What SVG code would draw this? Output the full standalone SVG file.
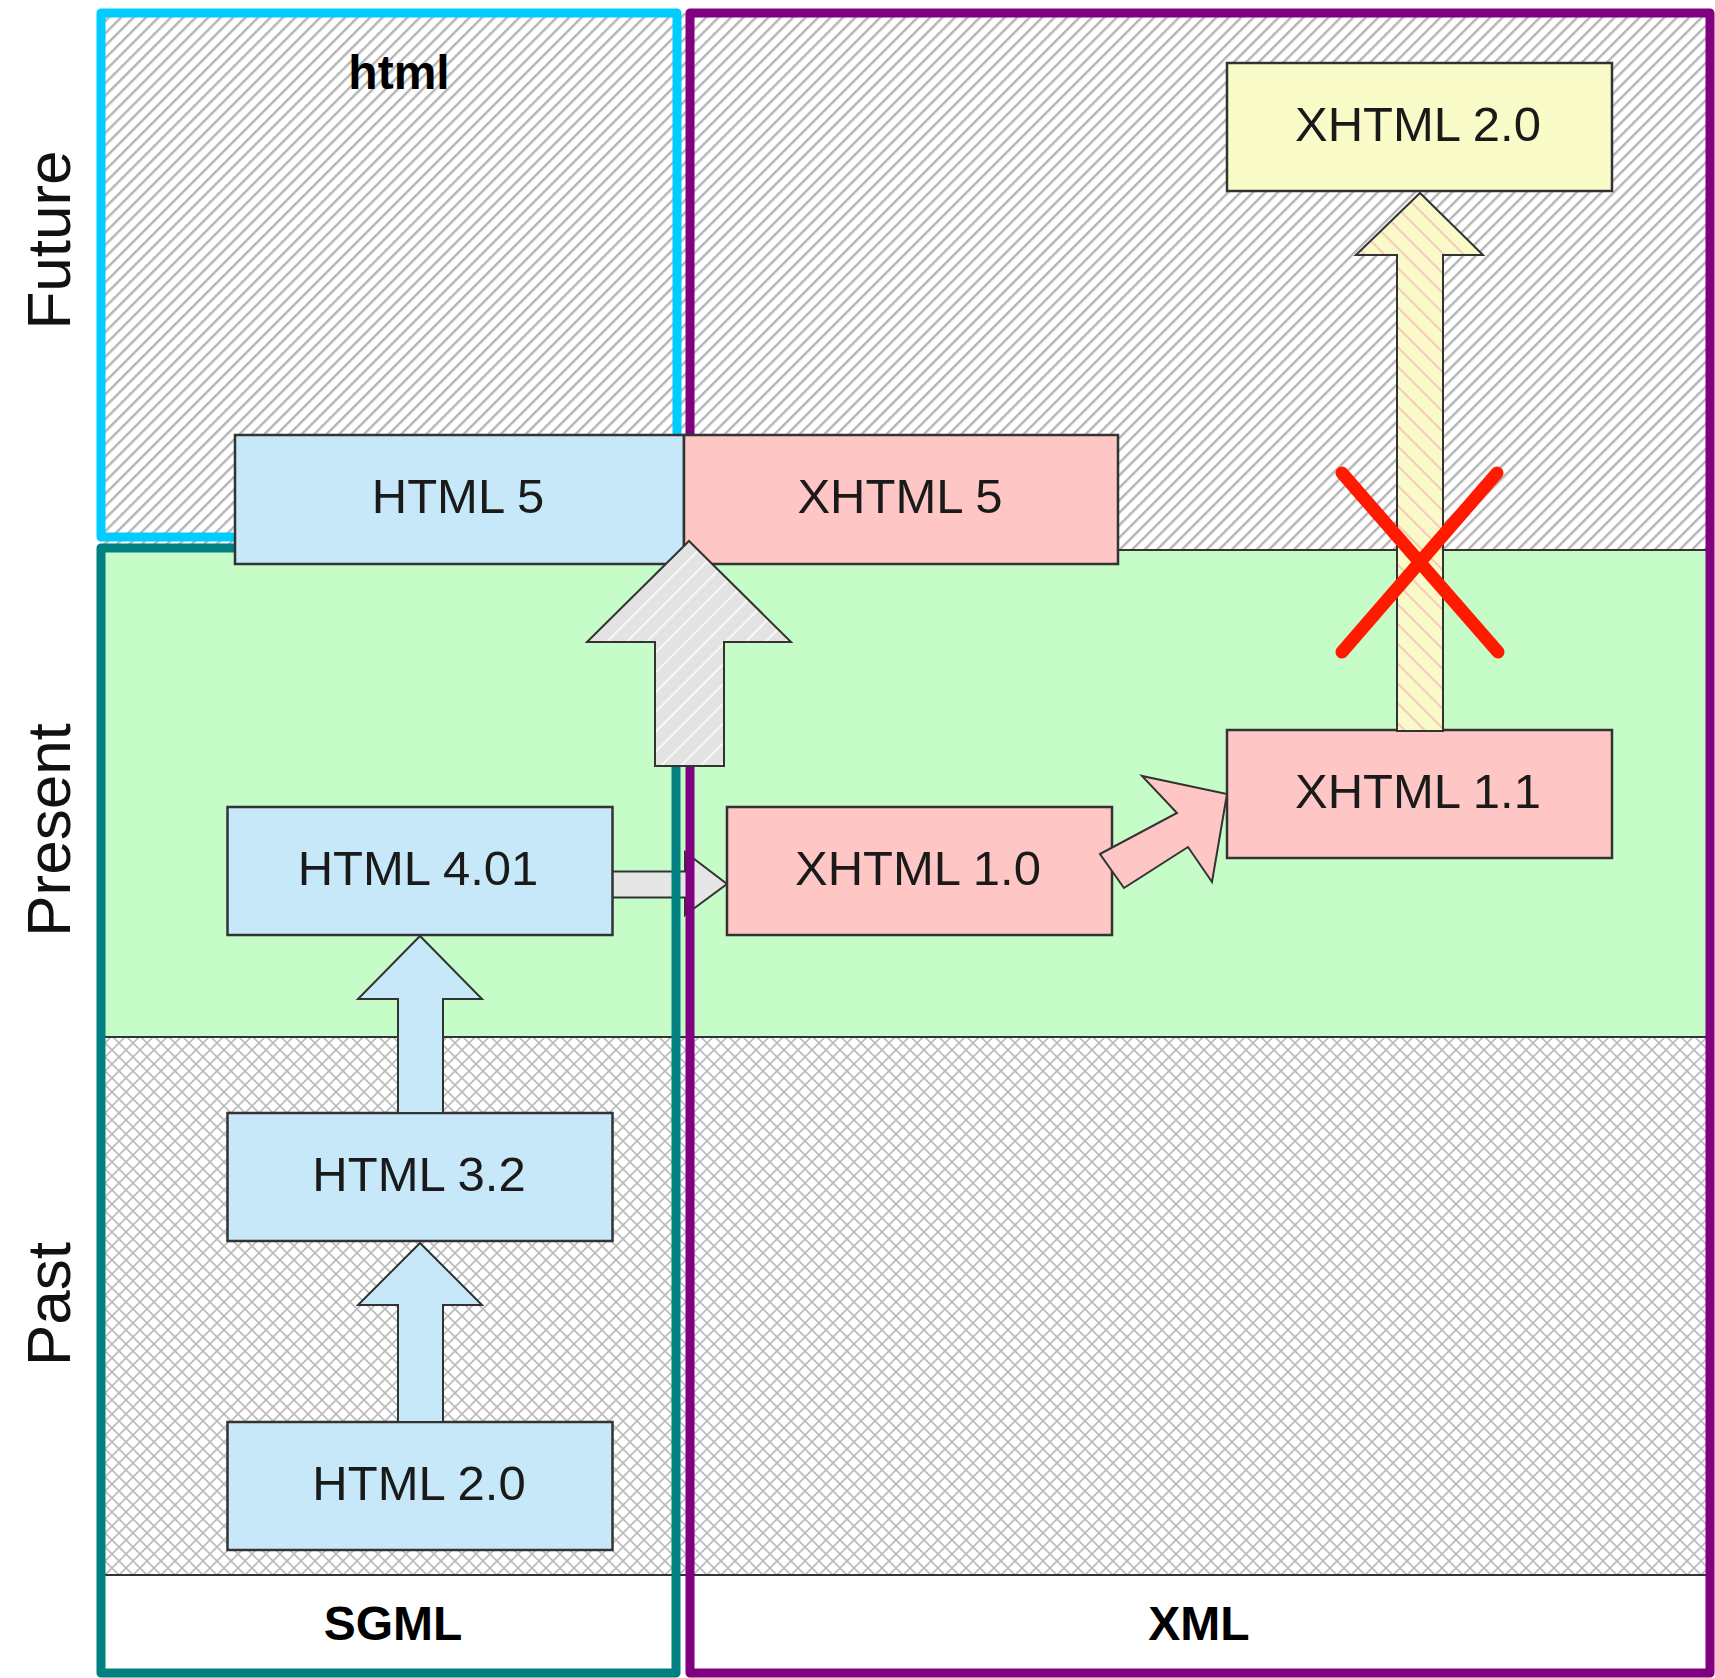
<svg xmlns="http://www.w3.org/2000/svg" width="1715" height="1678" viewBox="0 0 1715 1678">
<defs>
<pattern id="hatchFuture" patternUnits="userSpaceOnUse" width="8.8" height="10" patternTransform="rotate(45)">
<rect x="0" y="0" width="8.8" height="10" fill="#ffffff"/>
<rect x="0" y="0" width="2.4" height="10" fill="#b4b4b4"/>
</pattern>
<pattern id="crossPast" patternUnits="userSpaceOnUse" width="14" height="14">
<rect x="0" y="0" width="14" height="14" fill="#ffffff"/>
<path d="M0,0 L14,14 M14,0 L0,14" stroke="#bcbcbc" stroke-width="1.7" fill="none"/>
</pattern>
<pattern id="hatchGray" patternUnits="userSpaceOnUse" width="14" height="10" patternTransform="rotate(45)">
<rect x="0" y="0" width="14" height="10" fill="#e3e3e3"/>
<rect x="0" y="0" width="2" height="10" fill="#f8f8f8"/>
</pattern>
<pattern id="hatchYellow" patternUnits="userSpaceOnUse" width="14" height="10" patternTransform="rotate(-45)">
<rect x="0" y="0" width="14" height="10" fill="#fafac8"/>
<rect x="0" y="0" width="2" height="10" fill="#f6c8c0"/>
</pattern>
</defs>
<style>
.node rect { stroke: #333333; stroke-width: 2.5; }
.blue { fill: #c6e8f8; }
.pink { fill: #fec6c4; }
.yellow { fill: #f9fcc8; }
.label { font-family: "Liberation Sans", Arial, sans-serif; font-size: 49px; fill: #1a1a1a; text-anchor: middle; }
.bold { font-family: "Liberation Sans", Arial, sans-serif; font-size: 48px; font-weight: bold; fill: #000000; text-anchor: middle; }
.axis { font-family: "Liberation Sans", Arial, sans-serif; font-size: 62px; fill: #111111; text-anchor: middle; }
.arrow { stroke: #333333; stroke-width: 2; stroke-linejoin: miter; }
.divider { stroke: #333333; stroke-width: 2; }
.frame { fill: none; stroke-width: 9; stroke-linejoin: round; }
</style>

<rect x="0" y="0" width="1715" height="1678" fill="#ffffff"/>

<g id="bands">
<rect x="101" y="13" width="1609" height="537" fill="url(#hatchFuture)"/>
<rect x="101" y="550" width="1609" height="487" fill="#c6fcc8"/>
<rect x="101" y="1037" width="1609" height="538" fill="url(#crossPast)"/>
<rect x="101" y="1575" width="1609" height="98" fill="#ffffff"/>
<line class="divider" x1="101" y1="550" x2="1710" y2="550"/>
<line class="divider" x1="101" y1="1037" x2="1710" y2="1037"/>
<line class="divider" x1="101" y1="1575" x2="1710" y2="1575"/>
</g>

<g id="connectors-behind">
<polygon id="arrow-html401-xhtml10" class="arrow" fill="#e6e6e6" points="612,871.5 685,871.5 685,852 727,884 685,915 685,897.5 612,897.5"/>
</g>

<g id="frames">
<rect id="frame-html" class="frame" x="101" y="13" width="576" height="524" stroke="#00ccff"/>
<rect id="frame-sgml" class="frame" x="101" y="548" width="575" height="1125" stroke="#008080"/>
<rect id="frame-xml" class="frame" x="690" y="13" width="1020" height="1660" stroke="#800080"/>
</g>

<g id="axis-labels">
<text class="axis" transform="translate(70,240) rotate(-90)">Future</text>
<text class="axis" transform="translate(70,830) rotate(-90)">Present</text>
<text class="axis" transform="translate(70,1304) rotate(-90)">Past</text>
<text class="bold" x="399" y="89">html</text>
<text class="bold" x="393" y="1640">SGML</text>
<text class="bold" x="1199" y="1640">XML</text>
</g>

<g id="node-html5" class="node">
<rect class="blue" x="235" y="435" width="449" height="129"/>
<text class="label" x="458" y="513">HTML 5</text>
</g>
<g id="node-xhtml5" class="node">
<rect class="pink" x="684" y="435" width="434" height="129"/>
<text class="label" x="900" y="513">XHTML 5</text>
</g>
<g id="node-xhtml20" class="node">
<rect class="yellow" x="1227" y="63" width="385" height="128"/>
<text class="label" x="1418" y="141">XHTML 2.0</text>
</g>
<g id="node-xhtml11" class="node">
<rect class="pink" x="1227" y="730" width="385" height="128"/>
<text class="label" x="1418" y="808">XHTML 1.1</text>
</g>
<g id="node-xhtml10" class="node">
<rect class="pink" x="727" y="807" width="385" height="128"/>
<text class="label" x="918" y="885">XHTML 1.0</text>
</g>
<g id="node-html401" class="node">
<rect class="blue" x="227.5" y="807" width="385" height="128"/>
<text class="label" x="418" y="885">HTML 4.01</text>
</g>
<g id="node-html32" class="node">
<rect class="blue" x="227.5" y="1113" width="385" height="128"/>
<text class="label" x="419" y="1191">HTML 3.2</text>
</g>
<g id="node-html20" class="node">
<rect class="blue" x="227.5" y="1422" width="385" height="128"/>
<text class="label" x="419" y="1500">HTML 2.0</text>
</g>

<g id="connectors">
<polygon id="arrow-html20-html32" class="arrow" fill="#c6e8f8" points="398,1422 398,1305 358,1305 420,1243 482,1305 443,1305 443,1422"/>
<polygon id="arrow-html32-html401" class="arrow" fill="#c6e8f8" points="398,1113 398,999 358,999 420,936 482,999 443,999 443,1113"/>
<polygon id="arrow-to-html5" class="arrow" fill="url(#hatchGray)" points="655,766 655,642 587,642 689,541 791,642 724,642 724,766"/>
<polygon id="arrow-xhtml10-xhtml11" class="arrow" fill="#fec6c4" points="1100,854 1177,813 1142,776 1227,794 1212,882 1188,847 1124,888"/>
<polygon id="arrow-xhtml11-xhtml20" class="arrow" fill="url(#hatchYellow)" points="1397,731 1397,255 1356,255 1420,193 1483,255 1443,255 1443,731"/>
</g>

<g id="cross" stroke="#ff1a00" stroke-width="13" stroke-linecap="round">
<line x1="1342" y1="473" x2="1498" y2="652"/>
<line x1="1497" y1="473" x2="1342" y2="652"/>
</g>
</svg>
